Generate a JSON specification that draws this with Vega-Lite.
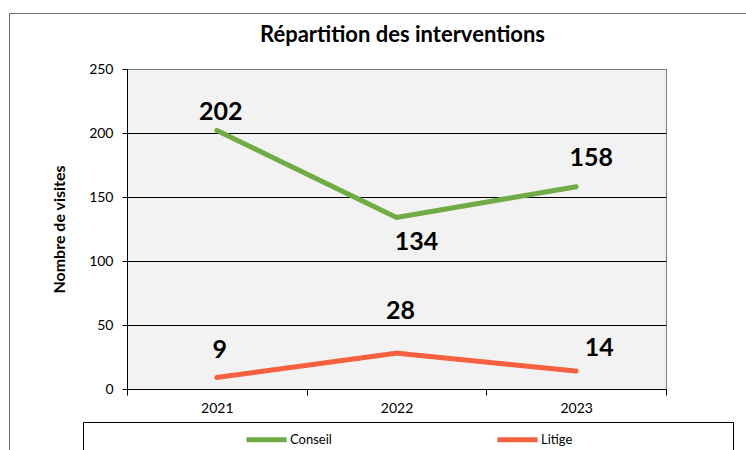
{
  "$schema": "https://vega.github.io/schema/vega-lite/v6.json",
  "autosize": {"type": "none"},
  "padding": {"left": 127, "top": 69, "right": 80, "bottom": 61},
  "width": 539,
  "height": 320,
  "background": "white",
  "title": {
    "text": "Répartition des interventions",
    "font": "Lato",
    "fontSize": 22,
    "fontWeight": "bold",
    "color": "black",
    "anchor": "middle",
    "frame": "group",
    "baseline": "alphabetic",
    "offset": -51,
    "dx": 6
  },
  "data": {
    "values": [
      {"year": "2021", "series": "Conseil", "value": 202},
      {"year": "2022", "series": "Conseil", "value": 134},
      {"year": "2023", "series": "Conseil", "value": 158},
      {"year": "2021", "series": "Litige", "value": 9},
      {"year": "2022", "series": "Litige", "value": 28},
      {"year": "2023", "series": "Litige", "value": 14}
    ]
  },
  "encoding": {
    "x": {
      "field": "year",
      "type": "nominal",
      "bandPosition": 0.5,
      "scale": {"type": "band", "paddingInner": 0, "paddingOuter": 0},
      "axis": {
        "title": null,
        "labelAngle": 0,
        "tickBand": "extent",
        "tickSize": 6,
        "tickColor": "black",
        "domainColor": "black",
        "labelFont": "Lato",
        "labelFontSize": 14,
        "labelColor": "black",
        "labelPadding": 6,
        "grid": false
      }
    },
    "y": {
      "field": "value",
      "type": "quantitative",
      "scale": {"domain": [0, 250], "nice": false},
      "axis": {
        "title": "Nombre de visites",
        "titleFont": "Lato",
        "titleFontSize": 16,
        "titleFontWeight": "bold",
        "titleColor": "black",
        "titlePadding": 21,
        "values": [0, 50, 100, 150, 200, 250],
        "tickSize": 5,
        "tickColor": "black",
        "domainColor": "black",
        "labelFont": "Lato",
        "labelFontSize": 14,
        "labelColor": "black",
        "labelPadding": 9,
        "grid": true,
        "gridColor": {"condition": {"test": "datum.value == 250", "value": "#808080"}, "value": "black"},
        "gridOpacity": 1
      }
    }
  },
  "layer": [
    {
      "mark": {"type": "line", "strokeWidth": 5, "strokeCap": "round", "strokeJoin": "miter"},
      "encoding": {
        "color": {
          "field": "series",
          "type": "nominal",
          "scale": {"domain": ["Conseil", "Litige"], "range": ["#71ab45", "#f8613f"]},
          "legend": {
            "title": null,
            "orient": "none",
            "legendX": -44,
            "legendY": 353,
            "direction": "horizontal",
            "columns": 2,
            "symbolType": "M-4,0H4",
            "symbolSize": 100,
            "symbolStrokeWidth": 5,
            "symbolOffset": 166,
            "columnPadding": 12,
            "labelFont": "Lato",
            "labelFontSize": 13,
            "labelColor": "black",
            "labelOffset": 16,
            "padding": 10
          }
        },
        "strokeDash": {
          "datum": "cadre",
          "type": "nominal",
          "scale": {"range": [[1, 0]]},
          "legend": {
            "title": null,
            "orient": "none",
            "legendX": -44,
            "legendY": 353,
            "symbolSize": 1,
            "symbolStrokeWidth": 0,
            "symbolOpacity": 0,
            "labelExpr": "''",
            "labelOffset": 0,
            "strokeColor": "black",
            "padding": 320
          }
        },
        "opacity": {
          "datum": "contour",
          "type": "nominal",
          "scale": {"range": [1]},
          "legend": {
            "title": null,
            "orient": "none",
            "legendX": -118,
            "legendY": -56,
            "symbolSize": 1,
            "symbolStrokeWidth": 0,
            "symbolOpacity": 0,
            "labelExpr": "''",
            "labelOffset": 0,
            "strokeColor": "#6e6e6e",
            "padding": 500
          }
        }
      }
    },
    {
      "transform": [{"filter": "datum.series == 'Conseil' && datum.year == '2021'"}],
      "mark": {"type": "text", "font": "Lato", "fontSize": 25, "fontWeight": "bold", "color": "black", "baseline": "middle", "dx": 4, "dy": -18},
      "encoding": {"text": {"field": "value", "type": "quantitative"}}
    },
    {
      "transform": [{"filter": "datum.series == 'Conseil' && datum.year == '2022'"}],
      "mark": {"type": "text", "font": "Lato", "fontSize": 25, "fontWeight": "bold", "color": "black", "baseline": "middle", "dx": 20, "dy": 25},
      "encoding": {"text": {"field": "value", "type": "quantitative"}}
    },
    {
      "transform": [{"filter": "datum.series == 'Conseil' && datum.year == '2023'"}],
      "mark": {"type": "text", "font": "Lato", "fontSize": 25, "fontWeight": "bold", "color": "black", "baseline": "middle", "dx": 15, "dy": -29},
      "encoding": {"text": {"field": "value", "type": "quantitative"}}
    },
    {
      "transform": [{"filter": "datum.series == 'Litige' && datum.year == '2021'"}],
      "mark": {"type": "text", "font": "Lato", "fontSize": 25, "fontWeight": "bold", "color": "black", "baseline": "middle", "dx": 3, "dy": -27},
      "encoding": {"text": {"field": "value", "type": "quantitative"}}
    },
    {
      "transform": [{"filter": "datum.series == 'Litige' && datum.year == '2022'"}],
      "mark": {"type": "text", "font": "Lato", "fontSize": 25, "fontWeight": "bold", "color": "black", "baseline": "middle", "dx": 4, "dy": -42},
      "encoding": {"text": {"field": "value", "type": "quantitative"}}
    },
    {
      "transform": [{"filter": "datum.series == 'Litige' && datum.year == '2023'"}],
      "mark": {"type": "text", "font": "Lato", "fontSize": 25, "fontWeight": "bold", "color": "black", "baseline": "middle", "dx": 23, "dy": -23},
      "encoding": {"text": {"field": "value", "type": "quantitative"}}
    }
  ],
  "config": {
    "view": {"fill": "#f2f2f2", "stroke": "#808080", "strokeWidth": 1},
    "axis": {"domainWidth": 1, "tickWidth": 1, "gridWidth": 1}
  }
}
